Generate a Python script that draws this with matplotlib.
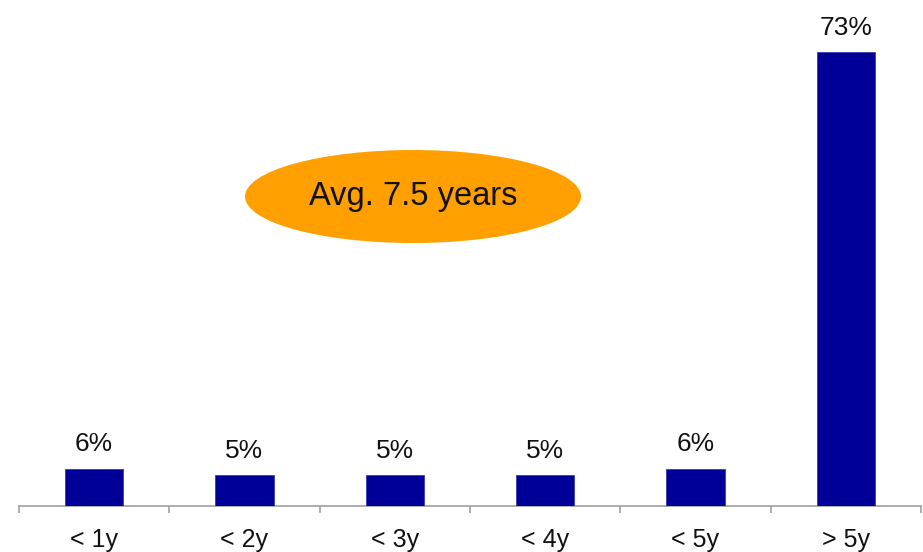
import matplotlib
matplotlib.use("Agg")
import matplotlib.pyplot as plt
from matplotlib.patches import Ellipse
from matplotlib.ticker import FixedLocator

categories = ["< 1y", "< 2y", "< 3y", "< 4y", "< 5y", "> 5y"]
values = [6, 5, 5, 5, 6, 73]
value_labels = ["6%", "5%", "5%", "5%", "6%", "73%"]
note_text = "Avg. 7.5 years"

plt.rcParams['font.family'] = ['Liberation Sans', 'DejaVu Sans']

W, H = 923, 552
fig = plt.figure(figsize=(W / 100, H / 100), dpi=100)
ax = fig.add_axes([19 / W, 46 / H, 902 / W, 497.6 / H])

x = list(range(len(categories)))
ax.bar(x, values, width=0.39, color="#000099", edgecolor="#3a3ab0", linewidth=0.6, zorder=3)
ax.set_xlim(-0.5, len(categories) - 0.5)
ax.set_ylim(0, 80)

for xi, v, lab in zip(x, values, value_labels):
    ax.annotate(lab, (xi, v), xytext=(0, 12.5), textcoords="offset points",
                ha="center", va="baseline", fontsize=19, color="#111111")

for s in ["top", "right", "left"]:
    ax.spines[s].set_visible(False)
ax.spines["bottom"].set_color("#a0a0a0")
ax.spines["bottom"].set_linewidth(1.2)
ax.set_yticks([])
ax.set_xticks(x)
ax.set_xticklabels(categories, fontsize=18, color="#111111")
ax.tick_params(axis="x", which="major", length=0, pad=16)
ax.xaxis.set_minor_locator(FixedLocator([i - 0.5 for i in range(len(categories) + 1)]))
ax.tick_params(axis="x", which="minor", length=5, width=1.2, color="#a0a0a0", direction="out")

ell = Ellipse((394 / 902, 309.5 / 497.6), 336 / 902, 93 / 497.6, transform=ax.transAxes,
              facecolor="#FFA000", edgecolor="none", zorder=4)
ax.add_patch(ell)
ax.text(394 / 902, 309.5 / 497.6, note_text, transform=ax.transAxes, ha="center", va="center",
        fontsize=23.5, color="#111111", zorder=5)

fig.savefig("out.png", dpi=100)
